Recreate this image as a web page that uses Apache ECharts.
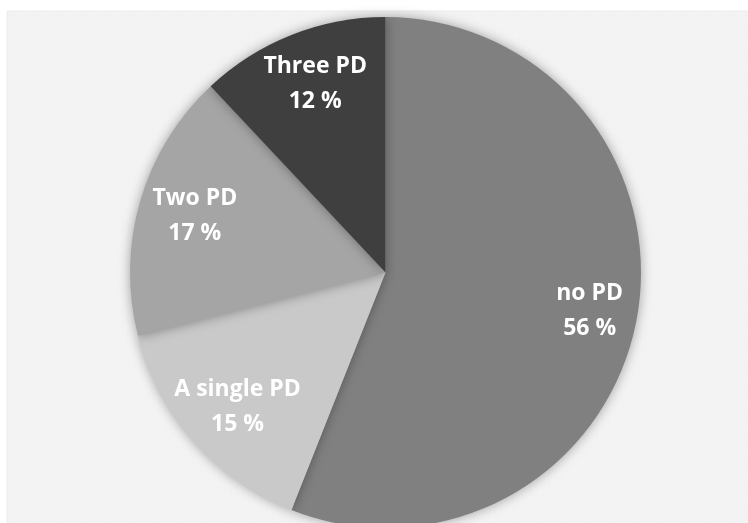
<!DOCTYPE html>
<html>
<head>
<meta charset="utf-8">
<script src="https://cdn.jsdelivr.net/npm/echarts@6/dist/echarts.min.js"></script>
<style>html,body{margin:0;padding:0;background:#fff}#c{width:748px;height:523px}</style>
</head>
<body>
<div id="c"></div>
<script>
const categories = ['no PD', 'A single PD', 'Two PD', 'Three PD'];
const values = [56, 15, 17, 12];
const colors = ['#808080', '#c9c9c9', '#a5a5a5', '#3f3f3f'];

const chart = echarts.init(document.getElementById('c'), null, {renderer: 'canvas'});

// hatched background pattern
const pc = document.createElement('canvas');
pc.width = 6; pc.height = 6;
const ctx = pc.getContext('2d');
ctx.fillStyle = '#f7f7f7';
ctx.fillRect(0, 0, 6, 6);
ctx.strokeStyle = '#efefef';
ctx.lineWidth = 1.2;
for (let k = -6; k <= 12; k += 3) {
  ctx.beginPath();
  ctx.moveTo(k, 0);
  ctx.lineTo(k + 6, 6);
  ctx.stroke();
}

const data = categories.map((c, i) => ({name: c, value: values[i], itemStyle: {color: colors[i]}}));
const labelData = categories.map((c, i) => ({name: c, value: values[i]}));

chart.setOption({
  animation: false,
  graphic: [{
    type: 'rect', z: -10,
    shape: {x: 7, y: 11, width: 760, height: 530},
    style: {fill: {image: pc, repeat: 'repeat'}, stroke: '#ececec', lineWidth: 1}
  }],
  series: [{
    type: 'pie',
    center: [385.5, 272.5],
    radius: [0, 255.5],
    startAngle: 90,
    clockwise: true,
    data: data,
    label: {show: false},
    labelLine: {show: false},
    itemStyle: {shadowBlur: 12, shadowColor: 'rgba(0,0,0,0.35)', borderWidth: 0}
  }, {
    type: 'pie',
    center: [390, 273],
    radius: [145, 255.5],
    startAngle: 90,
    clockwise: true,
    silent: true,
    data: labelData,
    itemStyle: {color: 'rgba(0,0,0,0)'},
    label: {
      show: true,
      position: 'inside',
      formatter: p => p.name + '\n' + p.value + ' %',
      color: '#ffffff',
      fontFamily: 'Open Sans',
      fontWeight: 'bold',
      fontSize: 23,
      lineHeight: 35,
      align: 'center'
    },
    labelLine: {show: false}
  }]
});
</script>
</body>
</html>
